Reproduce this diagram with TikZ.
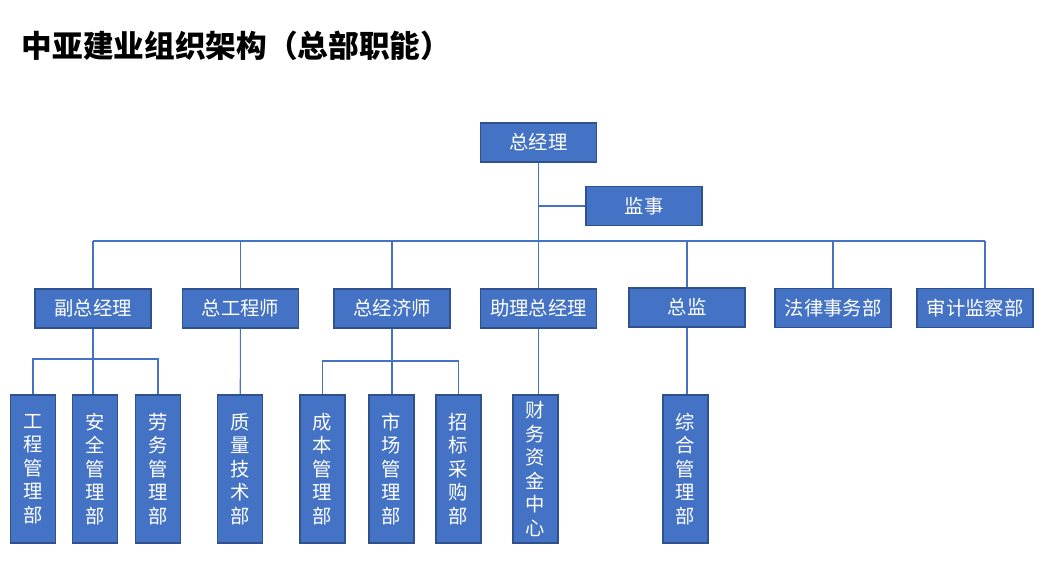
\documentclass[tikz,border=0pt]{standalone}
\usepackage{fontspec}
\setmainfont{Noto Sans CJK SC}
\definecolor{boxblue}{HTML}{4472C4}
\definecolor{boxedge}{HTML}{2F528F}
\tikzset{
  unit/.style={draw=boxedge, line width=1.1pt, fill=boxblue, text=white, inner sep=0pt,
    minimum width=87pt, minimum height=29.25pt, font=\fontsize{14.5}{17.6}\selectfont},
  dept/.style={unit, minimum width=33.75pt, minimum height=111pt, align=center},
  link/.style={draw=boxblue, line width=0.8pt}
}
\begin{document}
\begin{tikzpicture}[x=0.75pt, y=-0.75pt]
  \useasboundingbox (0,0) rectangle (1046,575);
  \node[anchor=west, font=\fontsize{23}{27}\bfseries\selectfont] (t) at (17,46) {中亚建业组织架构（总部职能）};
	\node[unit]		(0)	at (538.5, 142.5)	{总经理};
	\node[unit]		(1)	at (644, 206)	{监事};
	\node[unit]		(2)	at (93, 308.5)	{副总经理};
	\node[unit]		(3)	at (240.5, 308.5)	{总工程师};
	\node[unit]		(4)	at (392, 308.5)	{总经济师};
	\node[unit]		(5)	at (538.5, 308.5)	{助理总经理};
	\node[unit]		(6)	at (687, 307.5)	{总监};
	\node[unit]		(7)	at (833, 308)	{法律事务部};
	\node[unit]		(8)	at (975, 308)	{审计监察部};
	\node[dept]		(9)	at (33, 469)	{工\\程\\管\\理\\部};
	\node[dept]		(10)	at (95, 469)	{安\\全\\管\\理\\部};
	\node[dept]		(11)	at (158, 469)	{劳\\务\\管\\理\\部};
	\node[dept]		(12)	at (240, 469)	{质\\量\\技\\术\\部};
	\node[dept]		(13)	at (322.5, 469)	{成\\本\\管\\理\\部};
	\node[dept]		(14)	at (391.5, 469)	{市\\场\\管\\理\\部};
	\node[dept]		(15)	at (458.5, 469)	{招\\标\\采\\购\\部};
	\node[dept]		(16)	at (535.5, 469)	{财\\务\\资\\金\\中\\心};
	\node[dept]		(17)	at (685.5, 469)	{综\\合\\管\\理\\部};
	% top
	\coordinate (a) at (538.5, 206);
	\coordinate (l) at (93, 241);
	\coordinate (r) at (985, 241);
	\draw[link] (0) -- (5);
	\draw[link] (a) -- (1);
	\draw[link] (l) -- (r);
	\draw[link] (l) -- (2);
	\draw[link] (3 |- l) -- (3);
	\draw[link] (4 |- l) -- (4);
	\draw[link] (6 |- l) -- (6);
	\draw[link] (7 |- l) -- (7);
	\draw[link] (r) -- (r |- 8.north);
	% below
	\coordinate (b) at (93, 359);
	\coordinate (c) at (392, 361);
	\draw[link] (2) -- (2 |- 10.north);
	\draw[link] (9.north) |- (b) -| (11.north);
	\draw[link] (3) -- (12);
	\draw[link] (4) -- (4 |- 14.north);
	\draw[link] (13.north) |- (c) -| (15.north);
	\draw[link] (5) -- (5 |- 16.north);
	\draw[link] (6) -- (6 |- 17.north);
\end{tikzpicture}
\end{document}
